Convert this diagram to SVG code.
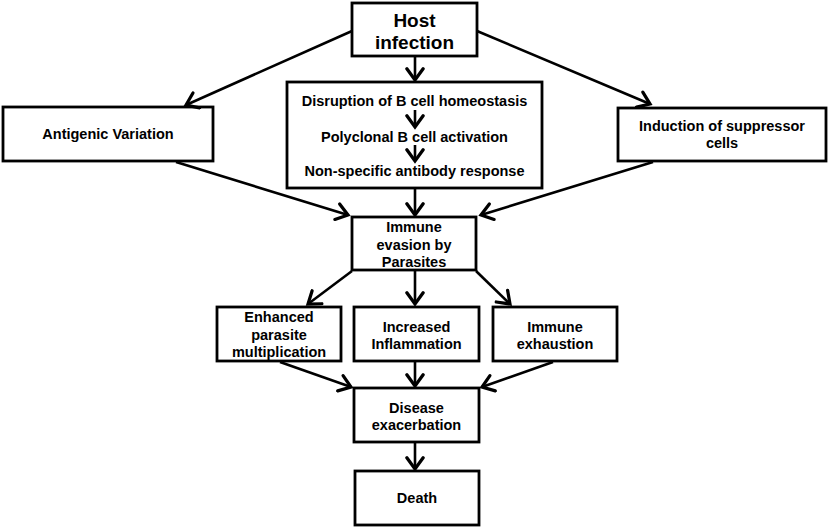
<svg xmlns="http://www.w3.org/2000/svg" width="829" height="528" viewBox="0 0 829 528">
<defs>
<marker id="ah" markerUnits="userSpaceOnUse" markerWidth="20" markerHeight="20" viewBox="-12 -8 14 16" refX="0" refY="0" orient="auto">
<path d="M-9,-6.5 L0,0 L-9,6.5" fill="none" stroke="#000" stroke-width="2.6" stroke-linecap="round" stroke-linejoin="miter"/>
</marker>
</defs>
<style>
.box{fill:#fff;stroke:#000;stroke-width:2.8}
.t{font-family:"Liberation Sans",Arial,sans-serif;font-weight:bold;font-size:14.5px;text-anchor:middle;fill:#000}
.big{font-size:19px}
.c{fill:none;stroke:#000;stroke-width:2.6;marker-end:url(#ah)}
</style>
<rect width="829" height="528" fill="#fff"/>
<g id="host">
<rect class="box" x="352" y="3" width="125" height="53"/>
<text class="t big" x="414.5" y="27">Host</text>
<text class="t big" x="414.5" y="49">infection</text>
</g>
<g id="bcell">
<rect class="box" x="287" y="82" width="255" height="106"/>
<text class="t" x="414.5" y="106">Disruption of B cell homeostasis</text>
<text class="t" x="414.5" y="142">Polyclonal B cell activation</text>
<text class="t" x="414.5" y="176">Non-specific antibody response</text>
</g>
<g id="antigenic">
<rect class="box" x="3" y="107" width="210" height="54"/>
<text class="t" x="108" y="139">Antigenic Variation</text>
</g>
<g id="suppressor">
<rect class="box" x="618" y="108" width="208" height="53"/>
<text class="t" x="722" y="131">Induction of suppressor</text>
<text class="t" x="722" y="148">cells</text>
</g>
<g id="evasion">
<rect class="box" x="352" y="217" width="124" height="53"/>
<text class="t" x="414" y="232">Immune</text>
<text class="t" x="414" y="249.5">evasion by</text>
<text class="t" x="414" y="267">Parasites</text>
</g>
<g id="enhanced">
<rect class="box" x="217" y="307" width="124" height="54"/>
<text class="t" x="279" y="322">Enhanced</text>
<text class="t" x="279" y="340">parasite</text>
<text class="t" x="279" y="357">multiplication</text>
</g>
<g id="inflammation">
<rect class="box" x="354" y="307" width="125" height="54"/>
<text class="t" x="416.5" y="332">Increased</text>
<text class="t" x="416.5" y="349">Inflammation</text>
</g>
<g id="exhaustion">
<rect class="box" x="493" y="307" width="124" height="54"/>
<text class="t" x="555" y="332">Immune</text>
<text class="t" x="555" y="349">exhaustion</text>
</g>
<g id="disease">
<rect class="box" x="354" y="388" width="125" height="54"/>
<text class="t" x="416.5" y="413">Disease</text>
<text class="t" x="416.5" y="430">exacerbation</text>
</g>
<g id="death">
<rect class="box" x="355" y="471" width="124" height="54"/>
<text class="t" x="417" y="503">Death</text>
</g>
<g id="connectors">
<line class="c" x1="352" y1="31" x2="186" y2="105"/>
<line class="c" x1="477" y1="31" x2="650" y2="104"/>
<line class="c" x1="415" y1="57" x2="415" y2="80"/>
<line class="c" x1="415" y1="110" x2="415" y2="127"/>
<line class="c" x1="415" y1="145" x2="415" y2="161"/>
<line class="c" x1="415" y1="189" x2="415" y2="215"/>
<line class="c" x1="176" y1="162" x2="348" y2="215"/>
<line class="c" x1="653" y1="162" x2="481" y2="215"/>
<line class="c" x1="352" y1="271" x2="308" y2="304"/>
<line class="c" x1="415" y1="271" x2="415" y2="304"/>
<line class="c" x1="476" y1="271" x2="510" y2="304"/>
<line class="c" x1="280" y1="362" x2="351" y2="387"/>
<line class="c" x1="415" y1="362" x2="415" y2="386"/>
<line class="c" x1="553" y1="362" x2="482" y2="387"/>
<line class="c" x1="415" y1="443" x2="415" y2="469"/>
</g>
</svg>
